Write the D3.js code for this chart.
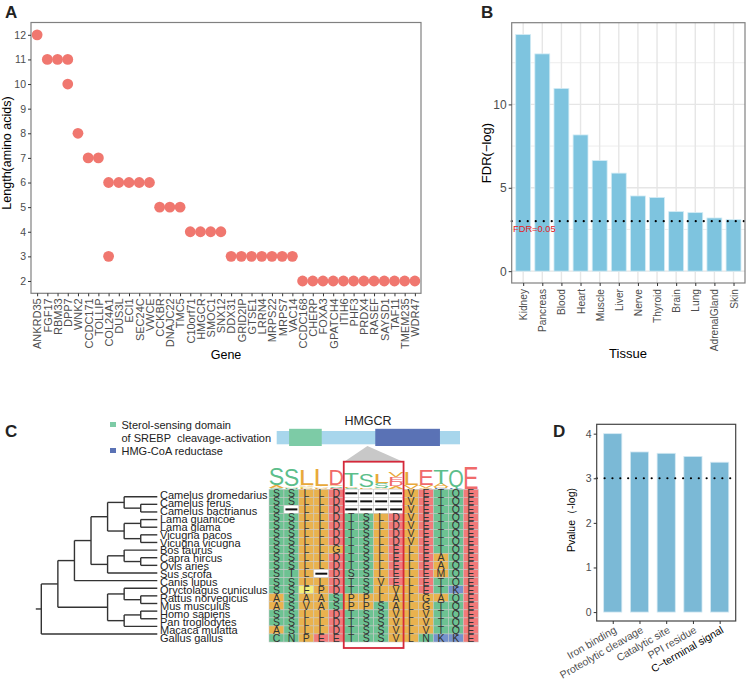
<!DOCTYPE html>
<html lang="en">
<head>
<meta charset="UTF-8">
<title>HMGCR micropeptide panels</title>
<style>
  body { margin: 0; background: #fff; }
  svg { display: block; font-family: "Liberation Sans", Arial, sans-serif; }
</style>
</head>
<body>
<svg id="fig" width="749" height="680"></svg>
<script src="https://cdn.jsdelivr.net/npm/d3@7"></script>
<script>
// ---- panel A: peptide length per gene
const genes = ["ANKRD35","FGF17","RBM33","DPP7","WNK2","CCDC171","TOLLIP","COL24A1","DUS3L","ECI1",
  "SEC24C","VWCE","CCKBR","DNAJC22","TMC5","C10orf71","HMGCR","SMOC1","SNX12","DDX31","GRID2IP",
  "GTSE1","LRRN4","MRPS22","MRPS7","VAC14","CCDC168","CHERP","FOXA3","GPATCH4","ITIH6","PHF3",
  "PRDX4","RASEF","SAYSD1","TAF11","TMEM235","WDR47"];
const geneLengths = [[12],[11],[11],[11,10],[8],[7],[7],[6,3],[6],[6],
  [6],[6],[5],[5],[5],[4],[4],[4],[4],[3],[3],
  [3],[3],[3],[3],[3],[2],[2],[2],[2],[2],[2],
  [2],[2],[2],[2],[2],[2]];
const lengthTicks = [2,3,4,5,6,7,8,9,10,11,12];

// ---- panel B: tissue enrichment
const tissues = ["Kidney","Pancreas","Blood","Heart","Muscle","Liver","Nerve","Thyroid","Brain","Lung","AdrenalGland","Skin"];
const tissueFdr = [14.19, 13.03, 10.96, 8.17, 6.63, 5.88, 4.51, 4.42, 3.57, 3.51, 3.19, 3.09];
const fdrCut = 3.0;
const fdrTicks = [0, 5, 10];
const fdrMinor = [2.5, 7.5, 12.5];

// ---- panel D: feature enrichment
const features = ["Iron binding","Proteolytic cleavage","Catalytic site","PPI residue","C\u2212terminal signal"];
const featureP = [4.0, 3.59, 3.56, 3.49, 3.36];
const pCut = 3.0;
const pTicks = [0, 1, 2, 3, 4];

// ---- panel C: tree, alignment, logo
const species = ["Camelus dromedarius","Camelus ferus","Camelus bactrianus","Lama guanicoe","Lama glama",
  "Vicugna pacos","Vicugna vicugna","Bos taurus","Capra hircus","Ovis aries","Sus scrofa","Canis lupus",
  "Oryctolagus cuniculus","Rattus norvegicus","Mus musculus","Homo sapiens","Pan troglodytes",
  "Macaca mulatta","Gallus gallus"];
const speciesTree = [
  [
    [
      [
        [["Camelus dromedarius", ["Camelus ferus", "Camelus bactrianus"]],
         [["Lama guanicoe", "Lama glama"], ["Vicugna pacos", "Vicugna vicugna"]]],
        [["Bos taurus", ["Capra hircus", "Ovis aries"]], "Sus scrofa"]
      ],
      "Canis lupus"
    ],
    [["Oryctolagus cuniculus", ["Rattus norvegicus", "Mus musculus"]],
     [["Homo sapiens", "Pan troglodytes"], "Macaca mulatta"]]
  ],
  "Gallus gallus"
];
const alignment = [
  "SSLLD----VETQE","SSLLD----VETQE","S-LLD----VETQE","SSLLDTSLDVETQE","SSLLDTSLDVETQE",
  "SSLLDTSLDVETQE","SSLLDTSLDVETQE","SSLLGTSLELETQE","SSLLDTSLELEAQE","SSLLDTSLELEAQE",
  "STL-DSSLELEMQE","SSLLDTSVELETQE","SSFPDTSLVLETKE","ASAASPPLALGAQE","ASVASPPSALGTQE",
  "SSLLDTSSVLVTQE","SSLLDTSSVLVTQE","ASLLDTSSVLVTQE","CNPEETSSVLNKKE"];
// sequence logo, bottom -> top, [residue, bits]
const logoStacks = [
  [["C",0.12],["A",0.5],["S",2.75]],
  [["N",0.15],["A",0.2],["S",2.9]],
  [["P",0.15],["F",0.1],["V",0.15],["A",0.25],["L",2.7]],
  [["P",0.15],["A",0.3],["L",2.75]],
  [["E",0.15],["S",0.25],["G",0.15],["D",2.7]],
  [["S",0.12],["P",0.3],["T",2.2]],
  [["P",0.3],["S",2.2]],
  [["V",0.15],["S",0.8],["L",1.5]],
  [["A",0.35],["D",0.75],["E",0.85],["V",0.8]],
  [["V",0.65],["L",2.1]],
  [["G",0.15],["V",0.5],["E",2.65]],
  [["K",0.1],["M",0.1],["A",0.6],["T",2.4]],
  [["K",0.25],["Q",2.8]],
  [["E",3.7]]
];
const highlightCols = [5, 8];
const hmgcrLength = 888;
const domains = [
  {name: "Sterol-sensing domain", start: 61, end: 219, color: "#7dcba6"},
  {name: "HMG-CoA reductase", start: 478, end: 791, color: "#5a72b5"}
];
const regionAA = 440;

const cellColor = {S:"#6dc292",T:"#6dc292",Q:"#6dc292",N:"#6dc292",C:"#6dc292",
  L:"#e9b24e",V:"#e9b24e",A:"#e9b24e",P:"#e9b24e",G:"#e9b24e",M:"#e9b24e",
  F:"#f3ef7a",D:"#f27a7a",E:"#f27a7a",K:"#7592cc"};
const logoColor = {S:"#5cbe8b",T:"#5cbe8b",Q:"#5cbe8b",N:"#5cbe8b",C:"#5cbe8b",
  L:"#e8a93a",V:"#e8a93a",A:"#e8a93a",P:"#e8a93a",G:"#e8a93a",M:"#e8a93a",
  F:"#e3dc55",D:"#f06a6a",E:"#f06a6a",K:"#5b80c4"};

const svg = d3.select("#fig");
const tickGrey = "#4d4d4d";

function styleAxis(g, size) {
  g.select(".domain").remove();
  g.selectAll(".tick line").attr("stroke", "#333");
  g.selectAll(".tick text").attr("fill", tickGrey).attr("font-size", size)
    .attr("font-family", "Liberation Sans, Arial, sans-serif");
}

function panelLabel(t, x, y) {
  svg.append("text").attr("x", x).attr("y", y).attr("font-size", 17).attr("font-weight", "bold")
    .attr("fill", "#222").text(t);
}

// =================== A ===================
const aX = d3.scalePoint().domain(genes).range([31, 421]).padding(0.6);
const aY = d3.scaleLinear().domain([1.5, 12.5]).range([293.3, 22.5]);
const gA = svg.append("g");
const aPts = genes.flatMap((g, i) => geneLengths[i].map(v => ({gene: g, len: v})));
gA.selectAll("circle").data(aPts).join("circle")
  .attr("cx", d => aX(d.gene)).attr("cy", d => aY(d.len)).attr("r", 5.4).attr("fill", "#f0776f");
gA.append("rect").attr("x", 31).attr("y", 22.5).attr("width", 390).attr("height", 270.8)
  .attr("fill", "none").attr("stroke", "#808080").attr("stroke-width", 1.2);
gA.append("g").attr("transform", "translate(31,0)")
  .call(d3.axisLeft(aY).tickValues(lengthTicks).tickFormat(d3.format("d")).tickSize(3).tickPadding(2))
  .call(g => styleAxis(g, 10.5));
gA.append("g").attr("transform", "translate(0,293.3)")
  .call(d3.axisBottom(aX).tickSize(3))
  .call(g => styleAxis(g, 11))
  .call(g => g.selectAll(".tick text").attr("transform", "rotate(-90)")
    .attr("text-anchor", "end").attr("x", -5).attr("y", 0).attr("dy", "0.35em"));
gA.append("text").attr("x", 226).attr("y", 359).attr("text-anchor", "middle")
  .attr("font-size", 12.5).text("Gene");
gA.append("text").attr("transform", "translate(10.8,153) rotate(-90)").attr("text-anchor", "middle")
  .attr("font-size", 12.5).text("Length(amino acids)");
panelLabel("A", 5, 18);

// =================== B ===================
const bX = d3.scalePoint().domain(tissues).range([511.7, 745]).padding(0.6);
const bY = d3.scaleLinear().domain([-0.71, 14.9]).range([283, 22.7]);
const gB = svg.append("g");
gB.selectAll("line.minor").data(fdrMinor).join("line").attr("class", "minor")
  .attr("x1", 511.7).attr("x2", 745).attr("y1", d => bY(d)).attr("y2", d => bY(d))
  .attr("stroke", "#ebebeb").attr("stroke-width", 0.9);
gB.selectAll("line.major").data(fdrTicks).join("line").attr("class", "major")
  .attr("x1", 511.7).attr("x2", 745).attr("y1", d => bY(d)).attr("y2", d => bY(d))
  .attr("stroke", "#e6e6e6").attr("stroke-width", 1.4);
gB.selectAll("line.vgrid").data(tissues).join("line").attr("class", "vgrid")
  .attr("x1", d => bX(d)).attr("x2", d => bX(d)).attr("y1", 22.7).attr("y2", 283)
  .attr("stroke", "#e6e6e6").attr("stroke-width", 1.4);
const bW = bX.step() * 0.78;
gB.selectAll("rect.bar").data(tissues).join("rect").attr("class", "bar")
  .attr("x", d => bX(d) - bW / 2).attr("width", bW)
  .attr("y", (d, i) => bY(tissueFdr[i])).attr("height", (d, i) => bY(0) - bY(tissueFdr[i]))
  .attr("fill", "#7ec4df").attr("stroke", "#d4ecf5").attr("stroke-width", 0.8);
gB.append("line").attr("x1", 511.7).attr("x2", 745).attr("y1", bY(fdrCut)).attr("y2", bY(fdrCut))
  .attr("stroke", "#000").attr("stroke-width", 2.1).attr("stroke-linecap", "round")
  .attr("stroke-dasharray", "0.1,7.9");
gB.append("text").attr("x", 513).attr("y", bY(fdrCut) + 10.5).attr("font-size", 9.3)
  .attr("fill", "#e41a1c").text("FDR=0.05");
gB.append("rect").attr("x", 511.7).attr("y", 22.7).attr("width", 233.3).attr("height", 260.3)
  .attr("fill", "none").attr("stroke", "#808080").attr("stroke-width", 1.2);
gB.append("g").attr("transform", "translate(511.7,0)")
  .call(d3.axisLeft(bY).tickValues(fdrTicks).tickFormat(d3.format("d")).tickSize(3).tickPadding(2))
  .call(g => styleAxis(g, 12));
gB.append("g").attr("transform", "translate(0,283)")
  .call(d3.axisBottom(bX).tickSize(3))
  .call(g => styleAxis(g, 10.2))
  .call(g => g.selectAll(".tick text").attr("transform", "rotate(-90)")
    .attr("text-anchor", "end").attr("x", -6).attr("y", 0).attr("dy", "0.35em"));
gB.append("text").attr("x", 628).attr("y", 358).attr("text-anchor", "middle")
  .attr("font-size", 13).text("Tissue");
gB.append("text").attr("transform", "translate(491,153) rotate(-90)").attr("text-anchor", "middle")
  .attr("font-size", 13).text("FDR(\u2212log)");
panelLabel("B", 481, 18);

// =================== D ===================
const dX = d3.scalePoint().domain(features).range([596.7, 735.7]).padding(0.6);
const dY = d3.scaleLinear().domain([-0.2, 4.21]).range([621, 424.3]);
const gD = svg.append("g");
const dW = dX.step() * 0.68;
gD.selectAll("rect.bar").data(features).join("rect").attr("class", "bar")
  .attr("x", d => dX(d) - dW / 2).attr("width", dW)
  .attr("y", (d, i) => dY(featureP[i])).attr("height", (d, i) => dY(0) - dY(featureP[i]))
  .attr("fill", "#7bb9d6").attr("stroke", "#d4e9f3").attr("stroke-width", 0.8);
gD.append("line").attr("x1", 596.7).attr("x2", 735.7).attr("y1", dY(pCut)).attr("y2", dY(pCut))
  .attr("stroke", "#000").attr("stroke-width", 2.1).attr("stroke-linecap", "round")
  .attr("stroke-dasharray", "0.1,7.75");
gD.append("rect").attr("x", 596.7).attr("y", 424.3).attr("width", 139).attr("height", 196.7)
  .attr("fill", "none").attr("stroke", "#444").attr("stroke-width", 1.2);
gD.append("g").attr("transform", "translate(596.7,0)")
  .call(d3.axisLeft(dY).tickValues(pTicks).tickFormat(d3.format("d")).tickSize(3).tickPadding(2))
  .call(g => styleAxis(g, 10.5));
gD.append("g").attr("transform", "translate(0,621)")
  .call(d3.axisBottom(dX).tickSize(3))
  .call(g => styleAxis(g, 10.5))
  .call(g => g.selectAll(".tick text").attr("transform", "translate(4,11) rotate(-30)")
    .attr("text-anchor", "end").attr("x", 0).attr("y", 0).attr("dy", 0)
    .attr("fill", (d, i) => i === features.length - 1 ? "#000" : tickGrey));
gD.append("text").attr("transform", "translate(575,520) rotate(-90)").attr("text-anchor", "middle")
  .attr("font-size", 10.5).text("Pvalue\uff08-log)");
panelLabel("D", 553, 437);

// =================== C ===================
panelLabel("C", 5, 437);
const gC = svg.append("g");

// legend
const legendRows = [
  {lines: ["Sterol-sensing domain", "of SREBP  cleavage-activation"], y: 429, color: domains[0].color},
  {lines: ["HMG-CoA reductase"], y: 455, color: domains[1].color}
];
legendRows.forEach(r => {
  gC.append("rect").attr("x", 110).attr("y", r.y - 7).attr("width", 6).attr("height", 5).attr("fill", r.color);
  r.lines.forEach((t, k) => gC.append("text").attr("x", 121.5).attr("y", r.y + k * 12.5)
    .attr("font-size", 11).attr("fill", "#222").style("white-space", "pre").text(t));
});

// domain diagram
const hX = d3.scaleLinear().domain([1, hmgcrLength]).range([276.7, 460]);
gC.append("text").attr("x", 368).attr("y", 425).attr("text-anchor", "middle").attr("font-size", 12.5)
  .attr("fill", "#222").text("HMGCR");
gC.append("rect").attr("x", hX(1)).attr("y", 431).attr("width", hX(hmgcrLength) - hX(1)).attr("height", 13.3)
  .attr("fill", "#a8d6ec");
gC.selectAll("rect.dom").data(domains).join("rect").attr("class", "dom")
  .attr("x", d => hX(d.start)).attr("width", d => hX(d.end) - hX(d.start))
  .attr("y", 428.8).attr("height", 17.2).attr("fill", d => d.color);

// alignment scales
const nCols = alignment[0].length;
const alX = d3.scaleBand().domain(d3.range(nCols)).range([269, 478.3]);
const alY = d3.scaleBand().domain(d3.range(species.length)).range([489.3, 642]);
const boxX0 = alX(highlightCols[0]), boxX1 = alX(highlightCols[1]) + alX.bandwidth();

// zoom triangle
gC.append("path")
  .attr("d", `M${hX(regionAA)},446 L${boxX0},462 L${boxX1},462 Z`)
  .attr("fill", "#c8c8c8");

// logo
const lY = d3.scaleLinear().domain([0, 4.32]).range([488.5, 462.5]);
const gLogo = gC.append("g");
logoStacks.forEach((stack, c) => {
  let acc = 0;
  stack.forEach(([ch, bits]) => {
    const y0 = lY(acc + bits), h = lY(acc) - lY(acc + bits);
    acc += bits;
    if (h < 0.3) return;
    const t = gLogo.append("text").attr("font-size", 20).attr("fill", logoColor[ch]).text(ch);
    const adv = t.node().getComputedTextLength();
    const w = alX.bandwidth() - 0.6;
    t.attr("transform", `translate(${alX(c) + 0.3 - w * 0.04},${y0 + h}) scale(${w * 1.08 / adv},${h / (20 * 0.716)})`);
  });
});

// alignment cells
const cells = [];
alignment.forEach((seq, r) => seq.split("").forEach((ch, c) => cells.push({r, c, ch})));
const gAl = gC.append("g");
gAl.selectAll("rect").data(cells).join("rect")
  .attr("x", d => alX(d.c)).attr("y", d => alY(d.r))
  .attr("width", alX.bandwidth()).attr("height", alY.bandwidth())
  .attr("fill", d => d.ch === "-" ? "#fff" : cellColor[d.ch])
  .attr("stroke", "#c8c8c8").attr("stroke-width", 0.5);
gAl.selectAll("text").data(cells.filter(d => d.ch !== "-")).join("text")
  .attr("x", d => alX(d.c) + alX.bandwidth() / 2).attr("y", d => alY(d.r) + alY.bandwidth() / 2)
  .attr("dy", "0.36em").attr("text-anchor", "middle").attr("font-size", 10.5).attr("fill", "#333")
  .text(d => d.ch);
gAl.selectAll("line.gap").data(cells.filter(d => d.ch === "-")).join("line").attr("class", "gap")
  .attr("x1", d => alX(d.c) + 1.5).attr("x2", d => alX(d.c) + alX.bandwidth() - 1.5)
  .attr("y1", d => alY(d.r) + alY.bandwidth() / 2).attr("y2", d => alY(d.r) + alY.bandwidth() / 2)
  .attr("stroke", "#111").attr("stroke-width", 2);

// highlight box
gC.append("rect").attr("x", boxX0).attr("y", 461.7).attr("width", boxX1 - boxX0).attr("height", 186.3)
  .attr("fill", "none").attr("stroke", "#d4283a").attr("stroke-width", 1.8);

// tree
const root = d3.hierarchy(speciesTree, d => Array.isArray(d) ? d : null);
d3.cluster().size([species.length, 1]).separation(() => 1)(root);
const tX = d3.scaleLinear().domain([0, 1]).range([41.3, 157.3]);
const tY = d3.scaleLinear().domain([0.5, species.length - 0.5]).range([496.7, 634]);
const gTree = gC.append("g").attr("stroke", "#333").attr("stroke-width", 1.4).attr("fill", "none");
gTree.selectAll("line.h").data(root.descendants()).join("line").attr("class", "h")
  .attr("x1", d => d.parent ? tX(d.parent.y) : tX(d.y) - 5.5).attr("x2", d => tX(d.y))
  .attr("y1", d => tY(d.x)).attr("y2", d => tY(d.x));
gTree.selectAll("line.v").data(root.descendants().filter(d => d.children)).join("line").attr("class", "v")
  .attr("x1", d => tX(d.y)).attr("x2", d => tX(d.y))
  .attr("y1", d => tY(d3.min(d.children, c => c.x))).attr("y2", d => tY(d3.max(d.children, c => c.x)));

const sY = d3.scaleLinear().domain([0, species.length - 1]).range([499, 641.7]);
gC.selectAll("text.sp").data(species).join("text").attr("class", "sp")
  .attr("x", 160).attr("y", (d, i) => sY(i)).attr("font-size", 11).attr("fill", "#222")
  .text(d => d);
</script>
</body>
</html>
